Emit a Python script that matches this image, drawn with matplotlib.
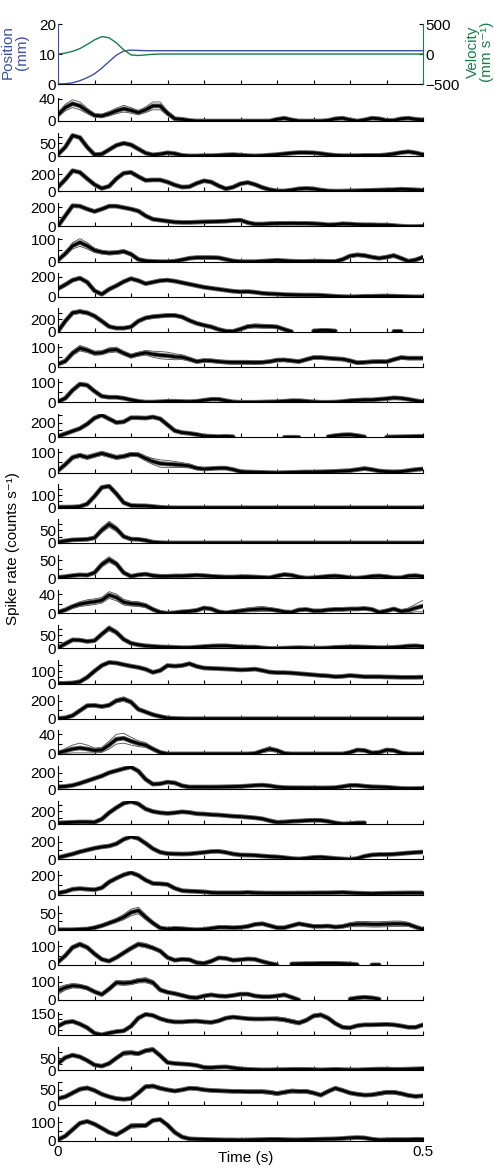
import numpy as np
import matplotlib
matplotlib.use('Agg')
import matplotlib.pyplot as plt

plt.rcParams['font.family'] = ['Liberation Sans', 'DejaVu Sans']
plt.rcParams['font.size'] = 11
plt.rcParams['axes.unicode_minus'] = True

nan = np.nan

# tiempo (s), cada 10 ms
time = np.round(np.arange(51) * 0.01, 2)

# panel superior: posicion (mm) y velocidad (mm/s)
position = [0, 0.1, 0.4, 1.1, 2.1, 3.4, 5.3, 7.5, 9.6, 11.0,
            11.3, 11.2, 11.1, 11.1, 11.1, 11.1, 11.1, 11.1, 11.1, 11.1,
            11.1, 11.1, 11.1, 11.1, 11.1, 11.1, 11.1, 11.1, 11.1, 11.1,
            11.1, 11.1, 11.1, 11.1, 11.1, 11.1, 11.1, 11.1, 11.1, 11.1,
            11.1, 11.1, 11.1, 11.1, 11.1, 11.1, 11.1, 11.1, 11.1, 11.1,
            11.1]
velocity = [0, 15, 45, 90, 160, 235, 290, 270, 185, 70,
            -15, -25, -15, -5, 0, 0, 0, 0, 0, 0,
            0, 0, 0, 0, 0, 0, 0, 0, 0, 0,
            0, 0, 0, 0, 0, 0, 0, 0, 0, 0,
            0, 0, 0, 0, 0, 0, 0, 0, 0, 0,
            0]

# etiqueta superior del eje y de cada neurona, y limites del eje
tick_label = [40, 50, 200, 200, 100, 200, 200, 100, 100, 200,
              100, 100, 50, 50, 40, 50, 100, 200, 40, 200,
              200, 200, 200, 50, 100, 100, 150, 50, 50, 100]
y_top = [42, 91, 279, 243, 104, 233, 369, 118, 117, 316,
         116, 185, 92, 66, 49, 91, 189, 261, 48, 288,
         370, 264, 245, 71, 128, 128, 170, 96, 75, 128]
y_bottom = [0, 0, 0, 0, 0, 0, 0, 0, 0, 0,
            0, 0, 0, 0, 0, 0, 0, 0, 0, 0,
            0, 0, 0, 0, 0, 0, -48, 0, 0, 0]

# tasa media (spikes/s) y semiancho del intervalo de confianza
rate_01 = [11, 24, 31, 27, 18, 10, 9, 13, 18, 22,
           19, 15, 20, 27, 27, 14, 4, 3, 1, 0,
           0, 0, 0, 0, 0, 0, 0, 0, 0, 0,
           3, 5, 2, 0, 0, 0, 0, 1, 4, 5,
           2, 0, 2, 5, 4, 1, 1, 4, 5, 3,
           2]
band_01 = [4, 6, 7, 7, 5, 3, 3, 4, 5, 6,
           5, 4, 5, 7, 7, 4, 2, 1, 1, 1,
           1, 1, 1, 1, 1, 1, 1, 1, 1, 1,
           1, 1, 1, 1, 1, 1, 1, 1, 1, 1,
           1, 1, 1, 1, 1, 1, 1, 1, 1, 1,
           1]
rate_02 = [7, 35, 80, 72, 35, 6, 8, 25, 42, 50,
           44, 28, 12, 5, 8, 13, 10, 3, 1, 1,
           2, 2, 3, 5, 6, 4, 2, 1, 2, 4,
           6, 9, 12, 14, 14, 13, 10, 6, 3, 2,
           2, 2, 3, 3, 3, 5, 9, 14, 17, 13,
           6]
band_02 = [2, 3, 4, 4, 3, 2, 2, 3, 4, 4,
           4, 3, 2, 2, 2, 2, 2, 2, 2, 2,
           2, 2, 2, 2, 2, 2, 2, 2, 2, 2,
           2, 3, 3, 4, 4, 4, 3, 2, 2, 2,
           2, 2, 2, 2, 2, 3, 4, 5, 6, 5,
           3]
rate_03 = [50, 140, 245, 225, 150, 80, 35, 60, 150, 215,
           225, 175, 130, 135, 135, 110, 75, 50, 55, 95,
           125, 110, 65, 30, 50, 90, 105, 80, 45, 20,
           5, 5, 15, 30, 35, 30, 15, 5, 2, 3,
           5, 8, 10, 12, 15, 18, 20, 25, 22, 18,
           12]
band_03 = [8, 10, 10, 10, 10, 10, 10, 10, 10, 10,
           10, 10, 10, 10, 10, 10, 10, 10, 10, 10,
           10, 10, 10, 10, 10, 10, 10, 10, 10, 10,
           8, 8, 8, 8, 8, 8, 8, 8, 8, 8,
           8, 8, 8, 8, 8, 8, 8, 8, 8, 8,
           8]
rate_04 = [5, 110, 215, 210, 180, 155, 180, 210, 210, 195,
           180, 160, 110, 75, 65, 55, 45, 42, 42, 45,
           48, 50, 52, 55, 62, 65, 40, 25, 25, 30,
           32, 32, 33, 32, 32, 30, 25, 18, 20, 28,
           25, 20, 18, 18, 15, 15, 10, 3, 0, 0,
           2]
band_04 = [8, 8, 8, 8, 8, 8, 8, 8, 8, 8,
           8, 8, 8, 8, 8, 8, 8, 8, 8, 8,
           8, 8, 8, 8, 8, 8, 8, 8, 8, 8,
           8, 8, 8, 8, 8, 8, 8, 8, 8, 8,
           8, 8, 8, 8, 8, 8, 8, 8, 8, 8,
           8]
rate_05 = [7, 35, 70, 85, 70, 50, 42, 38, 40, 45,
           33, 10, 3, 1, 0, 0, 2, 8, 15, 18,
           18, 18, 17, 10, 3, 0, 0, 0, 2, 4,
           6, 4, 2, 1, 1, 2, 2, 1, 1, 10,
           25, 30, 27, 20, 15, 20, 27, 15, 2, 8,
           20]
band_05 = [4, 8, 14, 17, 14, 10, 8, 8, 8, 8,
           6, 4, 3, 3, 3, 3, 3, 4, 5, 6,
           6, 6, 5, 4, 3, 3, 3, 3, 3, 3,
           3, 3, 3, 3, 3, 3, 3, 3, 3, 4,
           6, 7, 7, 6, 5, 6, 8, 6, 4, 4,
           5]
rate_06 = [80, 120, 165, 185, 145, 60, 25, 75, 110, 150,
           180, 160, 130, 145, 160, 165, 155, 140, 125, 110,
           95, 85, 75, 65, 55, 50, 52, 45, 35, 30,
           27, 22, 20, 18, 17, 17, 15, 10, 5, 2,
           0, 2, 5, 5, 7, 8, 6, 4, 2, 0,
           0]
band_06 = [10, 12, 15, 18, 14, 10, 8, 10, 12, 14,
           14, 12, 10, 10, 10, 10, 10, 10, 10, 10,
           8, 8, 8, 8, 8, 8, 8, 8, 8, 8,
           8, 8, 8, 8, 8, 8, 8, 8, 8, 8,
           8, 8, 8, 8, 8, 8, 8, 8, 8, 8,
           8]
rate_07 = [10, 170, 300, 320, 300, 250, 170, 85, 60, 60,
           80, 170, 220, 240, 250, 260, 260, 235, 180, 135,
           105, 80, 40, 12, 10, 45, 85, 95, 90, 88,
           80, 40, 5, nan, nan, 15, 25, 25, 15, nan,
           nan, nan, nan, nan, nan, nan, 10, 10, nan, nan,
           nan]
band_07 = [10, 20, 28, 30, 28, 25, 20, 15, 12, 12,
           15, 20, 25, 25, 25, 25, 22, 20, 18, 15,
           12, 10, 8, 6, 8, 15, 25, 30, 30, 28,
           20, 10, 5, 5, 5, 5, 5, 5, 5, 5,
           5, 5, 5, 5, 5, 5, 5, 5, 5, 5,
           5]
rate_08 = [15, 30, 70, 95, 85, 70, 72, 85, 88, 70,
           55, 65, 72, 65, 60, 57, 52, 50, 40, 28,
           33, 32, 28, 25, 24, 24, 24, 23, 24, 28,
           35, 36, 32, 28, 38, 48, 48, 45, 42, 40,
           32, 22, 24, 27, 28, 27, 38, 48, 45, 45,
           45]
band_08 = [8, 10, 12, 14, 12, 10, 10, 12, 12, 10,
           10, 10, 12, 15, 18, 18, 15, 12, 10, 8,
           8, 8, 8, 8, 10, 10, 10, 10, 8, 8,
           8, 8, 8, 8, 8, 8, 8, 8, 8, 8,
           8, 8, 8, 8, 8, 8, 8, 8, 8, 8,
           8]
rate_09 = [3, 20, 60, 90, 85, 55, 30, 25, 25, 20,
           12, 5, 1, 1, 3, 5, 5, 4, 3, 5,
           10, 15, 15, 8, 2, 0, 0, 0, 1, 2,
           3, 5, 8, 8, 5, 2, 0, 0, 1, 4,
           8, 10, 12, 12, 15, 18, 22, 20, 15, 8,
           2]
band_09 = [4, 6, 8, 10, 8, 6, 6, 6, 6, 6,
           5, 4, 3, 3, 3, 3, 3, 3, 3, 3,
           4, 4, 4, 3, 3, 3, 3, 3, 3, 3,
           3, 3, 3, 3, 3, 3, 3, 3, 3, 3,
           4, 4, 4, 4, 4, 5, 5, 5, 4, 4,
           3]
rate_10 = [15, 50, 85, 120, 180, 260, 300, 250, 200, 210,
           265, 265, 260, 275, 250, 170, 90, 65, 55, 40,
           20, 15, 12, 15, 10, nan, nan, nan, nan, nan,
           nan, 2, 3, 2, nan, nan, nan, 10, 25, 35,
           38, 25, 8, nan, nan, 5, 8, 10, 12, 14,
           15]
band_10 = [10, 10, 10, 10, 10, 10, 10, 10, 10, 10,
           10, 10, 10, 10, 10, 10, 10, 10, 10, 10,
           10, 10, 10, 10, 10, 10, 10, 10, 10, 10,
           10, 10, 10, 10, 10, 10, 10, 10, 10, 10,
           10, 10, 10, 10, 10, 10, 10, 10, 10, 10,
           10]
rate_11 = [10, 40, 75, 85, 75, 85, 95, 85, 75, 80,
           90, 88, 70, 55, 45, 42, 40, 37, 33, 22,
           18, 20, 22, 22, 15, 5, 3, 2, 1, 0,
           -1, 0, 1, 2, 3, 3, 4, 5, 6, 8,
           10, 15, 20, 15, 8, 5, 4, 5, 10, 15,
           18]
band_11 = [5, 8, 10, 10, 10, 10, 10, 10, 10, 10,
           10, 10, 12, 15, 18, 18, 15, 12, 10, 8,
           6, 6, 6, 6, 5, 4, 4, 4, 4, 4,
           4, 4, 4, 4, 4, 4, 4, 4, 4, 4,
           5, 6, 8, 6, 5, 4, 4, 4, 5, 6,
           6]
rate_12 = [5, 5, 6, 10, 30, 90, 160, 170, 110, 40,
           18, 16, 15, 10, 4, 1, 0, 0, 0, 0,
           0, 0, 0, 0, 0, 0, 0, 0, 0, 0,
           0, 0, 0, 0, 0, 0, 0, 0, 0, 0,
           0, 0, 0, 0, 0, 0, 0, 0, 0, 0,
           0]
band_12 = [3, 3, 3, 3, 6, 10, 12, 12, 10, 6,
           4, 4, 4, 3, 2, 1, 1, 1, 1, 1,
           1, 1, 1, 1, 1, 1, 1, 1, 1, 1,
           1, 1, 1, 1, 1, 1, 1, 1, 1, 1,
           1, 1, 1, 1, 1, 1, 1, 1, 1, 1,
           1]
rate_13 = [3, 8, 12, 13, 14, 20, 50, 73, 55, 25,
           15, 14, 10, 3, 1, 0, 0, 0, 0, 0,
           0, 0, 0, 0, 0, 0, 0, 0, 0, 0,
           0, 0, 0, 0, 0, 0, 0, 0, 0, 0,
           0, 0, 0, 0, 0, 0, 0, 0, 0, 0,
           0]
band_13 = [2, 3, 3, 3, 3, 5, 10, 12, 10, 5,
           3, 3, 2, 1, 1, 1, 1, 1, 1, 1,
           1, 1, 1, 1, 1, 1, 1, 1, 1, 1,
           1, 1, 1, 1, 1, 1, 1, 1, 1, 1,
           1, 1, 1, 1, 1, 1, 1, 1, 1, 1,
           1]
rate_14 = [2, 4, 7, 9, 8, 15, 38, 52, 40, 15,
           5, 9, 11, 7, 5, 5, 6, 6, 7, 8,
           7, 5, 4, 3, 3, 4, 4, 3, 2, 1,
           6, 10, 8, 3, 0, 1, 3, 5, 6, 4,
           1, 0, 2, 5, 6, 4, 1, 1, 6, 7,
           4]
band_14 = [2, 2, 2, 2, 2, 4, 7, 8, 6, 4,
           2, 3, 4, 3, 2, 2, 2, 2, 2, 2,
           2, 2, 2, 2, 2, 2, 2, 2, 2, 2,
           3, 4, 3, 2, 2, 2, 2, 2, 2, 2,
           2, 2, 2, 2, 2, 2, 2, 2, 3, 3,
           2]
rate_15 = [2, 7, 14, 19, 22, 24, 27, 38, 33, 23,
           20, 19, 16, 8, 2, 0, 1, 3, 4, 6,
           11, 9, 3, 1, 3, 5, 7, 8, 9, 8,
           6, 3, 2, 7, 8, 5, 5, 7, 8, 8,
           9, 9, 10, 8, 2, 5, 9, 4, 6, 11,
           15]
band_15 = [2, 3, 4, 5, 6, 6, 6, 7, 7, 6,
           5, 5, 4, 3, 2, 1, 1, 2, 2, 3,
           3, 3, 2, 2, 2, 3, 4, 5, 5, 4,
           3, 2, 2, 2, 2, 2, 2, 3, 3, 3,
           3, 3, 3, 3, 2, 2, 3, 3, 5, 8,
           12]
rate_16 = [2, 18, 33, 32, 27, 30, 55, 78, 62, 35,
           20, 14, 10, 8, 6, 5, 4, 3, 3, 5,
           7, 9, 10, 10, 8, 6, 5, 5, 2, 0,
           0, 1, 2, 3, 2, 1, 1, 2, 4, 5,
           6, 6, 5, 4, 3, 3, 4, 6, 9, 10,
           7]
band_16 = [2, 3, 4, 4, 3, 3, 6, 10, 8, 4,
           3, 3, 2, 2, 2, 2, 2, 2, 2, 2,
           2, 2, 2, 2, 2, 2, 2, 2, 2, 2,
           2, 2, 2, 2, 2, 2, 2, 2, 2, 2,
           2, 2, 2, 2, 2, 2, 2, 2, 2, 2,
           2]
rate_17 = [2, 2, 5, 15, 50, 100, 145, 170, 165, 152,
           140, 130, 115, 90, 105, 145, 140, 145, 160, 138,
           125, 122, 120, 117, 114, 110, 112, 116, 105, 92,
           88, 88, 85, 80, 75, 70, 65, 62, 55, 58,
           65, 60, 55, 55, 55, 53, 52, 50, 50, 50,
           52]
band_17 = [8, 8, 8, 8, 8, 8, 8, 8, 8, 8,
           8, 8, 8, 8, 8, 8, 8, 8, 8, 8,
           8, 8, 8, 8, 8, 8, 8, 8, 8, 8,
           8, 8, 8, 8, 8, 8, 8, 8, 8, 8,
           8, 8, 8, 8, 8, 8, 8, 8, 8, 8,
           8]
rate_18 = [3, 10, 35, 90, 145, 148, 135, 150, 200, 218,
           185, 105, 75, 45, 25, 8, 3, 1, 0, 0,
           0, 0, 0, 0, 0, 0, 0, 0, 0, 0,
           0, 0, 0, 0, 0, 0, 0, 0, 0, 0,
           0, 0, 0, 0, 0, 0, 0, 0, 0, 0,
           0]
band_18 = [3, 4, 8, 12, 15, 15, 12, 15, 22, 25,
           22, 15, 10, 8, 6, 3, 2, 1, 1, 1,
           1, 1, 1, 1, 1, 1, 1, 1, 1, 1,
           1, 1, 1, 1, 1, 1, 1, 1, 1, 1,
           1, 1, 1, 1, 1, 1, 1, 1, 1, 1,
           1]
rate_19 = [2, 6, 10, 12, 10, 7, 8, 18, 30, 32,
           26, 21, 18, 10, 3, 0, 0, 0, 0, 0,
           0, 0, 0, 0, 0, 0, 0, 1, 6, 10,
           7, 1, 0, 0, 0, 0, 0, 0, 0, 0,
           3, 8, 7, 2, 3, 8, 7, 2, 0, 0,
           0]
band_19 = [2, 5, 8, 10, 8, 5, 5, 8, 10, 10,
           8, 6, 5, 3, 2, 1, 1, 1, 1, 1,
           1, 1, 1, 1, 1, 1, 1, 1, 3, 5,
           3, 1, 1, 1, 1, 1, 1, 1, 1, 1,
           1, 2, 2, 1, 1, 2, 2, 1, 1, 1,
           1]
rate_20 = [28, 32, 45, 70, 100, 130, 160, 200, 225, 250,
           270, 220, 120, 60, 65, 85, 75, 40, 25, 25,
           25, 25, 26, 28, 30, 32, 38, 45, 48, 40,
           25, 18, 16, 16, 15, 15, 14, 15, 18, 30,
           45, 45, 35, 28, 25, 22, 15, 8, 6, 7,
           8]
band_20 = [8, 8, 8, 8, 10, 10, 10, 12, 12, 14,
           14, 12, 10, 8, 8, 8, 8, 8, 8, 8,
           8, 8, 8, 8, 8, 8, 8, 8, 8, 8,
           8, 8, 8, 8, 8, 8, 8, 8, 8, 8,
           8, 8, 8, 8, 8, 8, 8, 8, 8, 8,
           8]
rate_21 = [20, 25, 30, 35, 35, 30, 80, 180, 260, 330,
           355, 320, 240, 200, 180, 170, 180, 195, 185, 165,
           160, 150, 145, 135, 125, 120, 110, 100, 85, 55,
           30, 35, 45, 50, 58, 62, 60, 45, 20, 5,
           10, 20, 22, nan, nan, nan, nan, nan, nan, nan,
           nan]
band_21 = [12, 12, 12, 12, 12, 12, 12, 12, 12, 12,
           12, 12, 12, 12, 12, 12, 12, 12, 12, 12,
           12, 12, 12, 12, 12, 12, 12, 12, 12, 12,
           12, 12, 12, 12, 12, 12, 12, 12, 12, 12,
           12, 12, 12, 12, 12, 12, 12, 12, 12, 12,
           12]
rate_22 = [20, 40, 60, 85, 105, 125, 140, 150, 175, 225,
           255, 235, 180, 120, 80, 65, 62, 60, 62, 70,
           78, 88, 90, 78, 60, 50, 48, 45, 38, 32,
           28, 20, 10, 5, 12, 22, 25, 18, 10, 5,
           0, 10, 35, 50, 55, 55, 58, 65, 72, 78,
           82]
band_22 = [10, 10, 10, 10, 10, 10, 10, 10, 10, 10,
           10, 10, 10, 10, 10, 10, 10, 10, 10, 10,
           10, 10, 10, 10, 10, 10, 10, 10, 10, 10,
           10, 10, 10, 10, 10, 10, 10, 10, 10, 10,
           10, 10, 10, 10, 10, 10, 10, 10, 10, 10,
           10]
rate_23 = [15, 30, 55, 62, 55, 50, 70, 130, 170, 205,
           228, 200, 150, 115, 112, 105, 65, 40, 35, 32,
           28, 20, 18, 18, 18, 18, 22, 18, 16, 15,
           15, 15, 15, 16, 16, 17, 18, 18, 20, 22,
           18, 14, 12, 10, 12, 14, 15, 16, 17, 17,
           17]
band_23 = [10, 10, 10, 10, 10, 10, 10, 10, 10, 10,
           10, 10, 10, 10, 10, 10, 10, 10, 10, 10,
           10, 10, 10, 10, 10, 10, 10, 10, 10, 10,
           10, 10, 10, 10, 10, 10, 10, 10, 10, 10,
           10, 10, 10, 10, 10, 10, 10, 10, 10, 10,
           10]
rate_24 = [0, 0, 0, 1, 2, 6, 12, 20, 28, 38,
           52, 58, 38, 20, 5, 2, 4, 3, 1, 0,
           1, 4, 7, 7, 6, 7, 10, 16, 18, 12,
           6, 6, 12, 18, 14, 10, 10, 11, 8, 10,
           15, 17, 17, 16, 16, 17, 18, 18, 16, 8,
           1]
band_24 = [1, 1, 1, 1, 2, 3, 4, 5, 6, 8,
           10, 10, 8, 5, 3, 2, 2, 2, 2, 2,
           2, 2, 2, 2, 2, 2, 3, 4, 4, 3,
           2, 2, 3, 4, 3, 3, 3, 3, 3, 4,
           6, 8, 8, 8, 8, 8, 8, 8, 6, 4,
           2]
rate_25 = [15, 50, 95, 112, 95, 60, 30, 20, 40, 65,
           90, 112, 105, 92, 75, 40, 25, 30, 28, 12,
           8, 20, 38, 35, 25, 28, 32, 30, 18, 8,
           0, nan, 5, 6, 7, 7, 8, 8, 8, 7,
           5, 1, nan, 0, 0, nan, nan, nan, nan, nan,
           nan]
band_25 = [6, 8, 10, 12, 10, 8, 6, 6, 8, 10,
           10, 12, 12, 10, 8, 6, 6, 6, 6, 5,
           5, 5, 6, 6, 5, 5, 5, 5, 5, 4,
           3, 3, 3, 3, 3, 3, 3, 3, 3, 3,
           3, 3, 3, 3, 3, 3, 3, 3, 3, 3,
           3]
rate_26 = [50, 68, 78, 75, 65, 45, 30, 60, 95, 92,
           95, 105, 108, 95, 55, 42, 35, 25, 15, 12,
           22, 28, 22, 20, 25, 32, 32, 22, 18, 18,
           22, 28, 15, 0, nan, nan, nan, nan, nan, nan,
           5, 12, 15, 12, 5, nan, nan, nan, nan, nan,
           nan]
band_26 = [20, 14, 12, 10, 10, 8, 8, 10, 12, 12,
           12, 12, 14, 12, 10, 8, 6, 6, 5, 5,
           5, 5, 5, 5, 5, 5, 5, 5, 5, 5,
           5, 5, 5, 4, 4, 4, 4, 4, 4, 4,
           4, 4, 4, 4, 4, 4, 4, 4, 4, 4,
           4]
rate_27 = [36, 70, 80, 55, 21, -30, -45, -28, -15, -8,
           35, 110, 145, 135, 105, 85, 75, 75, 80, 82,
           75, 70, 85, 110, 120, 112, 105, 102, 102, 104,
           103, 95, 80, 65, 90, 130, 140, 110, 60, 25,
           20, 40, 48, 48, 50, 52, 48, 38, 25, 25,
           48]
band_27 = [12, 12, 12, 12, 12, 12, 12, 12, 12, 12,
           12, 12, 12, 12, 12, 12, 12, 12, 12, 12,
           12, 12, 12, 12, 12, 12, 12, 12, 12, 12,
           18, 18, 18, 18, 18, 18, 18, 18, 12, 12,
           12, 12, 12, 12, 12, 12, 12, 12, 12, 12,
           15]
rate_28 = [28, 52, 62, 55, 40, 22, 17, 28, 50, 70,
           72, 68, 80, 85, 60, 32, 28, 26, 24, 20,
           12, 11, 13, 14, 10, 6, 4, 3, 2, 2,
           3, 3, 4, 4, 4, 3, 2, 3, 4, 3,
           2, 2, 3, 4, 5, 5, 4, 4, 5, 6,
           7]
band_28 = [4, 5, 6, 6, 5, 4, 4, 5, 6, 8,
           8, 8, 8, 8, 6, 4, 4, 4, 4, 3,
           3, 3, 3, 3, 3, 2, 2, 2, 2, 2,
           2, 2, 2, 2, 2, 2, 2, 2, 2, 2,
           2, 2, 2, 2, 2, 2, 2, 2, 2, 2,
           2]
rate_29 = [22, 28, 40, 52, 56, 48, 36, 28, 22, 20,
           22, 40, 60, 62, 55, 50, 46, 50, 55, 54,
           50, 48, 47, 46, 45, 45, 44, 44, 44, 42,
           38, 42, 46, 45, 45, 40, 33, 45, 55, 48,
           40, 36, 33, 34, 38, 42, 42, 38, 32, 29,
           31]
band_29 = [5, 5, 6, 6, 6, 5, 5, 5, 5, 5,
           5, 6, 6, 6, 6, 5, 5, 5, 5, 5,
           5, 5, 5, 5, 5, 5, 6, 6, 6, 6,
           6, 6, 6, 6, 6, 5, 5, 5, 5, 5,
           5, 5, 5, 5, 6, 6, 6, 5, 5, 5,
           5]
rate_30 = [5, 25, 60, 95, 105, 90, 68, 45, 32, 55,
           80, 82, 82, 110, 115, 85, 45, 20, 10, 8,
           7, 6, 5, 4, 4, 3, 4, 5, 6, 7,
           7, 6, 5, 5, 6, 7, 8, 9, 10, 12,
           15, 17, 15, 8, 4, 5, 6, 6, 6, 7,
           7]
band_30 = [4, 6, 8, 8, 8, 6, 6, 6, 6, 8,
           12, 12, 10, 8, 8, 6, 4, 3, 3, 3,
           3, 3, 3, 3, 3, 3, 3, 3, 3, 3,
           3, 3, 3, 3, 3, 3, 3, 3, 3, 3,
           3, 3, 3, 3, 3, 3, 3, 3, 3, 3,
           3]

rates = [rate_01, rate_02, rate_03, rate_04, rate_05, rate_06, rate_07, rate_08,
         rate_09, rate_10, rate_11, rate_12, rate_13, rate_14, rate_15, rate_16,
         rate_17, rate_18, rate_19, rate_20, rate_21, rate_22, rate_23, rate_24,
         rate_25, rate_26, rate_27, rate_28, rate_29, rate_30]
bands = [band_01, band_02, band_03, band_04, band_05, band_06, band_07, band_08,
         band_09, band_10, band_11, band_12, band_13, band_14, band_15, band_16,
         band_17, band_18, band_19, band_20, band_21, band_22, band_23, band_24,
         band_25, band_26, band_27, band_28, band_29, band_30]

BLUE = '#3b50a3'
GREEN = '#168048'
W, H = 494, 1172
FS = 11

fig = plt.figure(figsize=(W / 100, H / 100), dpi=100)
left = 58 / W
width = 365 / W
xt = np.round(np.arange(11) * 0.05, 2)


def style(ax):
    for s in ['top', 'right']:
        ax.spines[s].set_visible(False)
    for s in ['left', 'bottom']:
        ax.spines[s].set_linewidth(0.8)
    ax.tick_params(direction='in', length=3, width=0.8, pad=1.5, labelsize=FS)
    ax.set_xlim(0, 0.5)
    ax.set_xticks(xt)
    ax.set_xticklabels([])


# panel superior
ax = fig.add_axes([left, 1 - 84 / H, width, 60 / H])
style(ax)
ax.plot(time, position, color=BLUE, lw=1.0)
ax.set_ylim(0, 20)
ax.set_yticks([0, 10, 20])
ax.spines['left'].set_color(BLUE)
ax2 = ax.twinx()
ax2.plot(time, velocity, color=GREEN, lw=1.0)
ax2.set_ylim(-500, 500)
ax2.set_yticks([-500, 0, 500])
ax2.set_yticklabels(['\u2212500', '0', '500'])
ax2.spines['top'].set_visible(False)
ax2.spines['left'].set_visible(False)
ax2.spines['bottom'].set_visible(False)
ax2.spines['right'].set_color(GREEN)
ax2.spines['right'].set_linewidth(0.8)
ax2.tick_params(direction='in', length=3, width=0.8, pad=1.5, labelsize=FS)

fig.text(15 / W, 1 - 52 / H, 'Position\n(mm)', rotation=90, ha='center',
         va='center', color=BLUE, fontsize=FS, linespacing=1.0)
fig.text(480 / W, 1 - 52 / H, 'Velocity\n(mm s\u207b\u00b9)', rotation=90,
         ha='center', va='center', color=GREEN, fontsize=FS, linespacing=1.0)

# neuronas
for i in range(30):
    base = 121 + 35.16 * i
    ax = fig.add_axes([left, 1 - base / H, width, 23.5 / H])
    style(ax)
    r = np.array(rates[i], dtype=float)
    b = np.array(bands[i], dtype=float)
    ax.plot(time, r + b, color='0.3', lw=0.6)
    ax.plot(time, r - b, color='0.3', lw=0.6)
    ax.plot(time, r, color='0.4', lw=3.4, solid_capstyle='round')
    ax.plot(time, r, color='k', lw=2.0, solid_capstyle='round')
    ax.set_ylim(y_bottom[i], y_top[i])
    v = tick_label[i]
    step = v / 2 if v != 150 else 50
    yt = np.arange(0, y_top[i] + 1e-6, step)
    ax.set_yticks(yt)
    ax.set_yticklabels(['0' if t == 0 else (str(v) if t == v else '') for t in yt])
    if i == 29:
        ax.set_xticklabels(['0'] + [''] * 9 + ['0.5'])
        ax.tick_params(axis='x', pad=3)

fig.text(13 / W, 1 - 549 / H, 'Spike rate (counts s\u207b\u00b9)', rotation=90,
         ha='center', va='center', fontsize=FS)
fig.text(246 / W, 1 - 1158 / H, 'Time (s)', ha='center', va='center', fontsize=FS)

fig.savefig('out.png', dpi=100)
